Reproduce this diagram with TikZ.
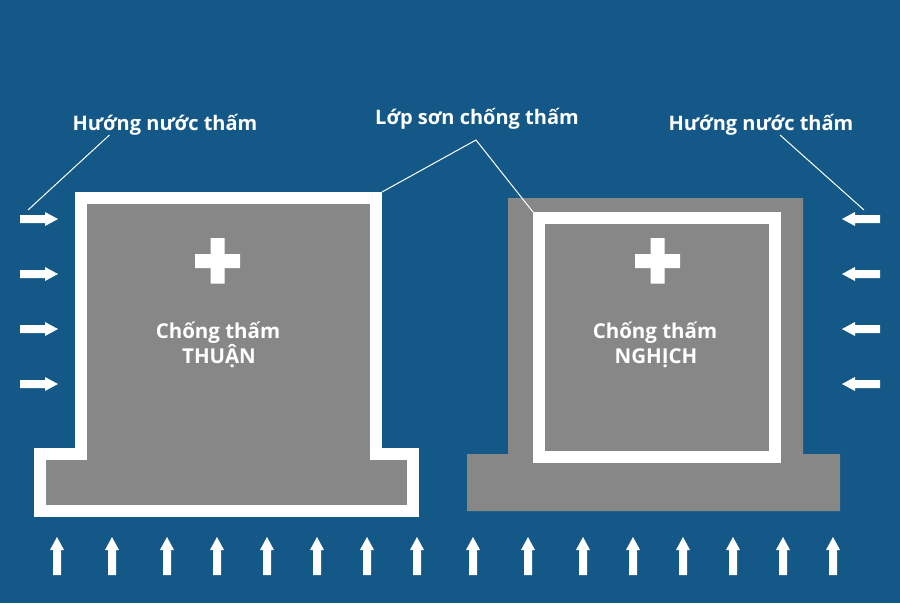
\documentclass[tikz,border=0pt]{standalone}
\usepackage{fontspec}
\setmainfont{Open Sans}
\usepackage{tikz}

\definecolor{seepblue}{RGB}{20,88,136}
\definecolor{wallgray}{RGB}{135,135,135}

\begin{document}
\begin{tikzpicture}[x=1pt,y=-1pt,
    label/.style={text=white,font=\bfseries\fontsize{20}{24}\selectfont,anchor=base,inner sep=0pt},
    inlabel/.style={text=white,font=\bfseries\fontsize{20.5}{24}\selectfont,anchor=base,inner sep=0pt},
    leader/.style={white,line width=1pt},
    coat/.style={white,line width=12pt,miter limit=10},
    flow/.pic={\fill[white] (0,-4) -- (25,-4) -- (25,-7) -- (38,0) -- (25,7) -- (25,4) -- (0,4) -- cycle;}]
  \fill[seepblue] (0,0) rectangle (900,603);
  \useasboundingbox (0,0) rectangle (900,603);

  % thuan: coating outside
  \fill[wallgray] (81,198) -- (376,198) -- (376,454) -- (413,454) -- (413,511)
    -- (40,511) -- (40,454) -- (81,454) -- cycle;
  \draw[coat] (81,198) -- (376,198) -- (376,454) -- (413,454) -- (413,511)
    -- (40,511) -- (40,454) -- (81,454) -- cycle;
  \coordinate (thuan corner) at (382,192);

  % nghich: coating inside
  \fill[wallgray] (508,198) -- (803,198) -- (803,454) -- (840,454) -- (840,511)
    -- (467,511) -- (467,454) -- (508,454) -- cycle;
  \draw[coat] (539,218) rectangle (775,457);
  \coordinate (nghich corner) at (533,212);

  \fill[white] (195,254) rectangle (240,268) (210.5,238) rectangle (224.5,283.5);
  \fill[white] (635,254) rectangle (680,268) (650.5,238) rectangle (664.5,283.5);

  \node[inlabel] (thuan1) at (218,338) {Chống thấm};
  \node[inlabel] (thuan2) at (219,363) {THUẬN};
  \node[inlabel] (nghich1) at (655,338) {Chống thấm};
  \node[inlabel] (nghich2) at (656,363) {NGHỊCH};

  \node[label] (dir left) at (165,130) {Hướng nước thấm};
  \node[label] (dir right) at (761,130) {Hướng nước thấm};
  \node[label] (coating) at (477,124) {Lớp sơn chống thấm};

  \coordinate (left tip) at (28,210);
  \coordinate (right tip) at (864,210);
  \coordinate (apex) at (476,140);
  \draw[leader] (dir left.south west) ++(37,0) coordinate (left start) -- (left tip);
  \draw[leader] (dir right.south) ++(19,0) coordinate (right start) -- (right tip);
  \draw[leader] (thuan corner) -- (apex) -- (nghich corner);

  \foreach \y in {219,274,329,384} {
    \pic at (20,\y) {flow};
    \pic[rotate=180] at (880,\y) {flow};
  }
  \foreach \x in {57,112,167,217,267,317,367,417,473,528,583,633,683,733,783,833}
    \pic[rotate=90] at (\x,575) {flow};
\end{tikzpicture}
\end{document}
